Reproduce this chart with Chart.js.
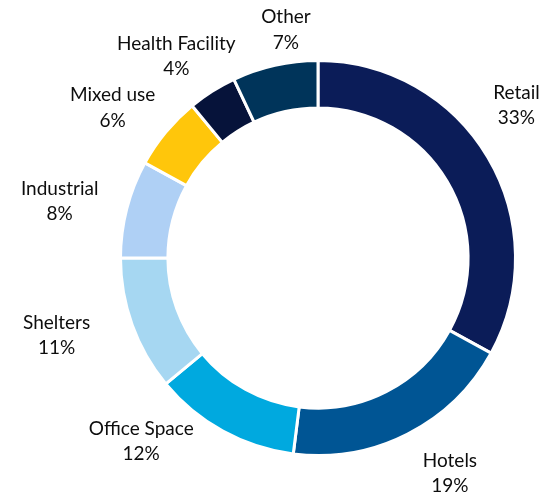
<!DOCTYPE html>
<html>
<head>
<meta charset="utf-8">
<script src="https://cdn.jsdelivr.net/npm/chart.js@4"></script>
<style>
  html, body { margin: 0; padding: 0; background: #fff; }
  #wrap { width: 543px; height: 495px; }
</style>
</head>
<body>
<div id="wrap"><canvas id="chart" width="543" height="495"></canvas></div>
<script>
const categories = ['Retail', 'Hotels', 'Office Space', 'Shelters', 'Industrial', 'Mixed use', 'Health Facility', 'Other']
const shares = [33, 19, 12, 11, 8, 6, 4, 7]
const colors = ['#0b1c58', '#005594', '#00a9df', '#a6d7f2', '#afd0f5', '#ffc60b', '#06133a', '#00345a']

// label placement: nudge from slice mid angle (deg) and gap beyond outer edge (px)
const labelNudge = [-7, -4.5, 15.2, 3.4, -2, -3.4, -2.7, 4.6]
const labelGap = [53, 55, 57, 75, 67, 57, 49, 33]

const outsideLabels = {
  id: 'outsideLabels',
  afterDatasetsDraw(chart) {
    const c = chart.ctx
    const meta = chart.getDatasetMeta(0)
    c.save()
    c.font = '19px Lato, "Open Sans", sans-serif'
    c.fillStyle = '#0d0d0d'
    c.textAlign = 'center'
    c.textBaseline = 'middle'
    meta.data.forEach((arc, i) => {
      const mid = (arc.startAngle + arc.endAngle) / 2 + labelNudge[i] * Math.PI / 180
      const r = arc.outerRadius + labelGap[i]
      const x = arc.x + Math.cos(mid) * r
      const y = arc.y + Math.sin(mid) * r
      c.fillText(categories[i], x, y - 12.5)
      c.fillText(shares[i] + '%', x, y + 13)
    })
    c.restore()
  }
}

new Chart(document.getElementById('chart'), {
  type: 'doughnut',
  data: {
    labels: categories,
    datasets: [{
      data: shares,
      backgroundColor: colors,
      borderColor: '#ffffff',
      borderWidth: 3
    }]
  },
  options: {
    responsive: false,
    animation: false,
    cutout: '76%',
    layout: { padding: { top: 59, bottom: 38, left: 119, right: 26 } },
    plugins: {
      legend: { display: false },
      tooltip: { enabled: false }
    }
  },
  plugins: [outsideLabels]
})
</script>
</body>
</html>
